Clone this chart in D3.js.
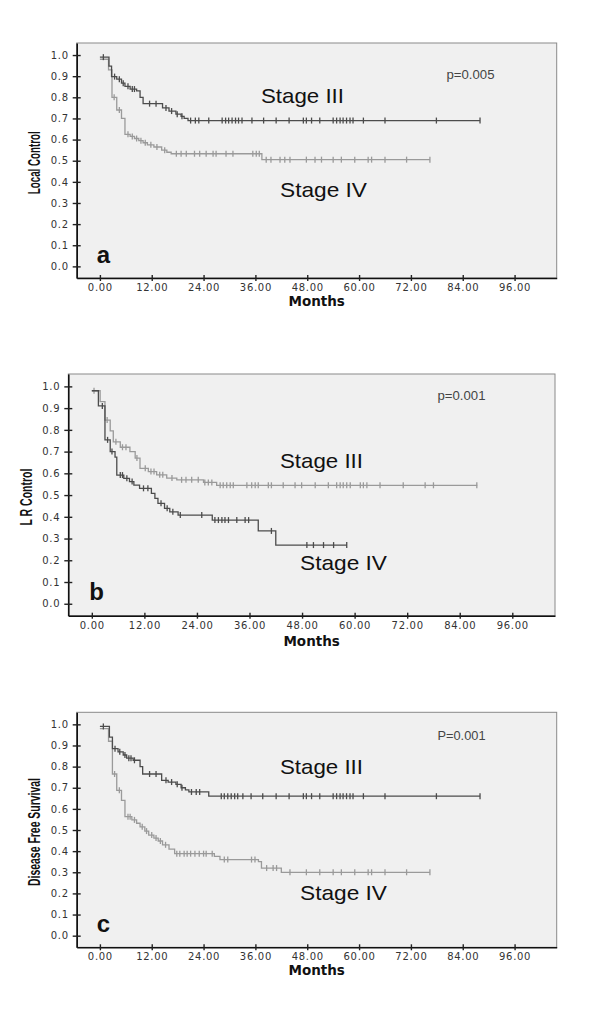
<!DOCTYPE html>
<html>
<head>
<meta charset="utf-8">
<script src="https://cdn.jsdelivr.net/npm/d3@7"></script>
<style>
html,body{margin:0;padding:0;background:#fff;}
svg{display:block;}
</style>
</head>
<body>
<svg id="chart" width="600" height="1029"></svg>
<script>
// ---------- shared ticks ----------
const monthTicks = [0, 12, 24, 36, 48, 60, 72, 84, 96];
const survTicks = [0, 0.1, 0.2, 0.3, 0.4, 0.5, 0.6, 0.7, 0.8, 0.9, 1.0];
const xDomain = [-5.37, 105.75];
const yDomain = [-0.055, 1.057];

// ---------- panel a : Local Control ----------
const aIIITimes = [0, 2.1, 2.7, 3.9, 5.0, 5.8, 7.0, 8.5, 9.3, 10.0, 14.5, 16.0, 17.6, 18.8, 19.5, 20.4, 88.0];
const aIIISurv  = [0.99, 0.948, 0.898, 0.886, 0.867, 0.852, 0.839, 0.83, 0.80, 0.77, 0.75, 0.735, 0.72, 0.71, 0.70, 0.69, 0.69];
const aIIICensor = [0.8, 3.4, 4.5, 5.4, 6.5, 7.5, 8.0, 11.5, 13.0, 15.3, 16.6, 17.9, 19.0, 21.0, 22.1, 22.9, 25.2, 28.3, 29.1, 29.8, 30.6, 31.4, 32.1, 32.9, 35.2, 37.9, 40.8, 43.8, 47.1, 47.8, 49.0, 50.9, 54.0, 54.8, 55.6, 56.3, 57.1, 57.9, 58.6, 61.0, 66.0, 77.9, 88.0];
const aIVTimes = [0, 2.0, 2.8, 3.9, 5.0, 5.8, 7.0, 8.0, 9.0, 10.0, 11.0, 12.5, 14.3, 15.5, 16.5, 37.5, 76.4];
const aIVSurv  = [0.98, 0.93, 0.80, 0.74, 0.70, 0.625, 0.615, 0.605, 0.595, 0.585, 0.575, 0.565, 0.55, 0.54, 0.533, 0.505, 0.505];
const aIVCensor = [3.3, 4.5, 6.5, 7.5, 8.5, 9.5, 10.5, 11.8, 13.2, 15.0, 17.7, 18.8, 20.0, 21.9, 23.1, 24.6, 26.2, 26.9, 29.2, 30.8, 35.4, 36.2, 36.9, 38.5, 39.6, 41.7, 42.8, 44.0, 47.8, 49.8, 51.3, 54.0, 55.9, 59.0, 62.1, 62.9, 66.0, 71.0, 76.4];

// ---------- panel b : L R Control ----------
const bIIITimes = [0, 1.9, 3.0, 4.2, 4.9, 6.5, 8.7, 9.9, 11.0, 12.9, 14.8, 17.1, 19.4, 25.5, 28.5, 88.0];
const bIIISurv  = [0.98, 0.93, 0.845, 0.795, 0.745, 0.72, 0.70, 0.67, 0.623, 0.608, 0.593, 0.578, 0.57, 0.558, 0.545, 0.545];
const bIIICensor = [0.5, 3.5, 5.5, 7.0, 7.8, 10.3, 12.2, 13.5, 14.2, 15.5, 16.2, 18.3, 20.5, 21.5, 22.8, 24.3, 25.8, 26.6, 27.4, 29.3, 30.0, 30.8, 31.6, 32.3, 35.4, 36.5, 37.3, 38.0, 40.3, 41.0, 43.7, 46.4, 47.9, 51.0, 54.0, 55.9, 56.7, 57.4, 58.2, 59.0, 61.3, 62.0, 62.8, 65.8, 71.1, 76.1, 78.0, 87.9];
const bIVTimes = [0, 1.5, 3.0, 4.2, 5.3, 5.7, 7.3, 8.6, 9.6, 10.9, 13.6, 14.4, 15.1, 16.6, 17.8, 19.7, 27.5, 38.0, 42.0, 58.2];
const bIVSurv  = [0.98, 0.91, 0.754, 0.70, 0.675, 0.592, 0.577, 0.562, 0.546, 0.531, 0.508, 0.485, 0.462, 0.439, 0.423, 0.408, 0.385, 0.335, 0.27, 0.27];
const bIVCensor = [2.4, 3.6, 4.6, 6.5, 7.0, 8.0, 9.2, 11.8, 12.8, 15.8, 17.2, 18.5, 20.2, 25.1, 28.1, 28.9, 29.7, 30.4, 31.2, 33.1, 35.0, 35.8, 41.0, 49.1, 50.6, 52.9, 55.2, 58.2];

// ---------- panel c : Disease Free Survival ----------
const cIIITimes = [0, 2.2, 2.9, 4.2, 5.4, 6.2, 7.7, 9.3, 9.9, 14.3, 15.8, 17.6, 18.8, 19.8, 20.6, 25.2, 88.0];
const cIIISurv  = [0.99, 0.94, 0.885, 0.87, 0.855, 0.84, 0.83, 0.80, 0.765, 0.735, 0.727, 0.716, 0.70, 0.69, 0.68, 0.66, 0.66];
const cIIICensor = [0.8, 3.5, 4.6, 5.8, 6.7, 7.2, 8.0, 11.5, 13.0, 15.3, 16.6, 17.9, 19.0, 21.2, 22.3, 23.1, 28.1, 28.8, 29.6, 30.4, 31.2, 31.9, 33.1, 35.0, 37.7, 40.8, 43.8, 47.1, 47.8, 49.0, 50.9, 54.0, 54.8, 55.6, 56.3, 57.1, 57.9, 58.6, 61.0, 66.0, 77.9, 88.0];
const cIVTimes = [0, 2.0, 2.9, 3.9, 5.0, 5.8, 7.4, 8.5, 9.3, 10.4, 11.3, 12.5, 13.5, 14.5, 16.0, 17.3, 26.5, 27.8, 36.7, 37.4, 42.0, 76.4];
const cIVSurv  = [0.98, 0.92, 0.765, 0.688, 0.64, 0.563, 0.548, 0.532, 0.515, 0.495, 0.476, 0.462, 0.448, 0.43, 0.41, 0.388, 0.375, 0.36, 0.35, 0.32, 0.30, 0.30];
const cIVCensor = [3.4, 4.5, 6.5, 7.0, 8.0, 9.8, 10.8, 12.0, 13.0, 14.0, 15.2, 17.8, 18.5, 19.5, 20.2, 21.0, 22.0, 23.0, 24.0, 24.6, 26.0, 28.8, 29.6, 35.1, 35.9, 38.6, 40.1, 40.9, 44.0, 47.8, 50.9, 54.0, 55.9, 59.0, 62.1, 62.9, 66.0, 71.0, 76.4];

const DARK = "#4c4c4c";
const LIGHT = "#9a9a9a";

const panels = [
  {box:{l:76.7, r:556.7, t:43, b:278}, yLabel:"Local Control", yLabelX:34, yLabelLen:63,
   letter:"a", p:"p=0.005",
   curves:[
     {times:aIVTimes, surv:aIVSurv, censor:aIVCensor, color:LIGHT},
     {times:aIIITimes, surv:aIIISurv, censor:aIIICensor, color:DARK}],
   s3:{x:261, y:103}, s4:{x:280, y:197}, pPos:{x:446.5, y:78.5}, monthsY:305.5},
  {box:{l:68.3, r:555, t:374, b:615.7}, yLabel:"L R Control", yLabelX:26, yLabelLen:57,
   letter:"b", p:"p=0.001",
   curves:[
     {times:bIIITimes, surv:bIIISurv, censor:bIIICensor, color:LIGHT},
     {times:bIVTimes, surv:bIVSurv, censor:bIVCensor, color:DARK}],
   s3:{x:280, y:467.5}, s4:{x:300, y:569.5}, pPos:{x:437.5, y:400}, monthsY:645.5},
  {box:{l:76.7, r:556.7, t:712.3, b:947.3}, yLabel:"Disease Free Survival", yLabelX:34, yLabelLen:108,
   letter:"c", p:"P=0.001",
   curves:[
     {times:cIVTimes, surv:cIVSurv, censor:cIVCensor, color:LIGHT},
     {times:cIIITimes, surv:cIIISurv, censor:cIIICensor, color:DARK}],
   s3:{x:280, y:773.5}, s4:{x:300, y:900}, pPos:{x:437.5, y:740}, monthsY:975}
];

const svg = d3.select("#chart");

function survAt(times, surv, t){
  let v = surv[0];
  for (let i = 0; i < times.length; i++){ if (times[i] <= t) v = surv[i]; else break; }
  return v;
}

panels.forEach(P => {
  const B = P.box;
  const x = d3.scaleLinear().domain(xDomain).range([B.l, B.r]);
  const y = d3.scaleLinear().domain(yDomain).range([B.b, B.t]);
  const g = svg.append("g");

  // plot background & frame
  g.append("rect").attr("x", B.l).attr("y", B.t).attr("width", B.r - B.l).attr("height", B.b - B.t)
    .attr("fill", "#f0f0f0").attr("stroke", "#8a8a8a").attr("stroke-width", 1);

  // curves
  const line = d3.line().x(d => x(d[0])).y(d => y(d[1])).curve(d3.curveStepAfter);
  P.curves.forEach(c => {
    const pts = c.times.map((t, i) => [t, c.surv[i]]);
    g.append("path").attr("d", line(pts)).attr("fill", "none")
      .attr("stroke", c.color).attr("stroke-width", 1.3);
    g.selectAll(null).data(c.censor).enter().append("line")
      .attr("x1", t => x(t)).attr("x2", t => x(t))
      .attr("y1", t => y(survAt(c.times, c.surv, t)) - 3)
      .attr("y2", t => y(survAt(c.times, c.surv, t)) + 3)
      .attr("stroke", c.color).attr("stroke-width", 1.3);
  });

  // axes
  const xAxis = g.append("g").attr("transform", `translate(0,${B.b})`)
    .call(d3.axisBottom(x).tickValues(monthTicks).tickFormat(d3.format(".2f")).tickSizeInner(3).tickSizeOuter(0).tickPadding(5));
  xAxis.select(".domain").attr("stroke", "#111").attr("stroke-width", 1.6);
  xAxis.selectAll(".tick line").attr("y1", -3).attr("y2", 3).attr("stroke", "#222").attr("stroke-width", 1.4);
  xAxis.selectAll(".tick text").attr("font-family", "DejaVu Sans, sans-serif").attr("font-size", 10)
    .attr("letter-spacing", 0.7).attr("fill", "#333").attr("dy", "0.5em");

  const yAxis = g.append("g").attr("transform", `translate(${B.l},0)`)
    .call(d3.axisLeft(y).tickValues(survTicks).tickFormat(d3.format(".1f")).tickSizeInner(4).tickSizeOuter(0).tickPadding(4));
  yAxis.select(".domain").attr("stroke", "#111").attr("stroke-width", 1.6);
  yAxis.selectAll(".tick line").attr("x1", -4).attr("x2", 4).attr("stroke", "#222").attr("stroke-width", 1.4);
  yAxis.selectAll(".tick text").attr("font-family", "DejaVu Sans, sans-serif").attr("font-size", 10)
    .attr("letter-spacing", 0.7).attr("fill", "#333");

  // y label
  const cy = (y(0) + y(1)) / 2 + 2;
  g.append("text").attr("transform", `translate(${P.yLabelX + 6},${cy}) rotate(-90)`)
    .attr("text-anchor", "middle").attr("font-family", "Liberation Sans Narrow, Liberation Sans, Arial, sans-serif")
    .attr("font-weight", "bold").attr("font-size", 16).attr("fill", "#111")
    .attr("textLength", P.yLabelLen).attr("lengthAdjust", "spacingAndGlyphs").text(P.yLabel);

  // Months label
  g.append("text").attr("x", (B.l + B.r) / 2).attr("y", P.monthsY).attr("text-anchor", "middle")
    .attr("font-family", "DejaVu Sans, sans-serif").attr("font-weight", "bold").attr("font-size", 13.5)
    .attr("fill", "#111").text("Months");

  // stage labels
  g.append("text").attr("x", P.s3.x).attr("y", P.s3.y).attr("font-family", "Liberation Sans, Arial, sans-serif")
    .attr("font-size", 21).attr("fill", "#111").attr("textLength", 83).attr("lengthAdjust", "spacingAndGlyphs").text("Stage III");
  g.append("text").attr("x", P.s4.x).attr("y", P.s4.y).attr("font-family", "Liberation Sans, Arial, sans-serif")
    .attr("font-size", 21).attr("fill", "#111").attr("textLength", 87).attr("lengthAdjust", "spacingAndGlyphs").text("Stage IV");

  // p value
  g.append("text").attr("x", P.pPos.x).attr("y", P.pPos.y).attr("font-family", "Liberation Sans, Arial, sans-serif")
    .attr("font-size", 12).attr("fill", "#444").attr("textLength", 48).attr("lengthAdjust", "spacingAndGlyphs").text(P.p);

  // panel letter
  g.append("text").attr("x", B.l + (P.letter === "b" ? 21 : 20)).attr("y", y(0) - 3.5)
    .attr("font-family", "Liberation Sans, Arial, sans-serif").attr("font-weight", "bold")
    .attr("font-size", 24).attr("fill", "#111").text(P.letter);
});
</script>
</body>
</html>
